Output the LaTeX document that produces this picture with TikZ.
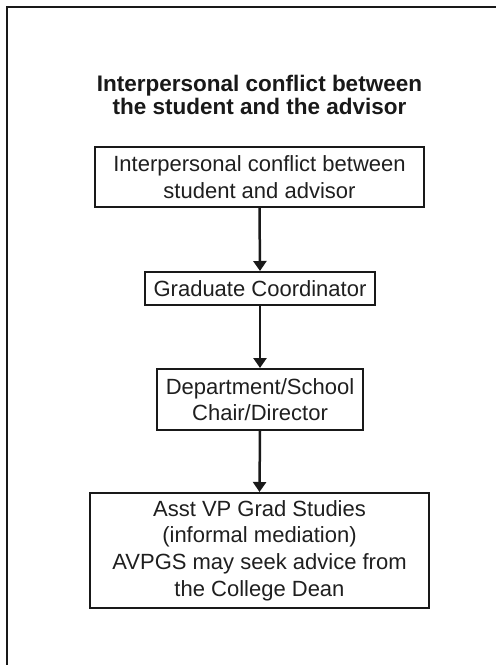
\documentclass[tikz,border=0pt]{standalone}
\usepackage{fontspec}
\setmainfont{Liberation Sans}
\usetikzlibrary{arrows.meta}
\begin{document}
\begin{tikzpicture}[x=1pt,y=-1pt,
  box/.style={draw=black!90,line width=2pt,align=center,inner sep=0pt,text=black!88,
    font=\fontsize{22}{26.7}\selectfont},
  ttl/.style={anchor=base,inner sep=0pt,text=black!90,font=\fontsize{22.5}{24}\selectfont\bfseries},
  arr/.style={line width=2.5pt,draw=black!90,-{Triangle[length=10pt,width=13pt]}}]
\useasboundingbox (0,0) rectangle (496,665);
\fill[white] (0,0) rectangle (496,665);
\draw[line width=2.7pt,black!90] (7,680) -- (7,7) -- (510,7);
\node[ttl] (t1) at (259.5,91) {Interpersonal conflict between};
\node[ttl] (t2) at (259.5,114) {the student and the advisor};
\node[box,minimum width=329pt,minimum height=60pt] (b1) at (259.5,177)
  {Interpersonal conflict between\\student and advisor};
\node[box,minimum width=230pt,minimum height=33pt] (b2) at (260,288.5)
  {Graduate Coordinator};
\node[box,minimum width=206pt,minimum height=61pt] (b3) at (260,399.5)
  {Department/School\\Chair/Director};
\node[box,minimum width=339pt,minimum height=115pt] (b4) at (259.5,550.5)
  {Asst VP Grad Studies\\(informal mediation)\\AVPGS may seek advice from\\the College Dean};
\draw[arr] (b1.south) -- (b2.north);
\draw[arr] (b2.south) -- (b3.north);
\draw[arr] (b3.south) -- (b4.north);
\end{tikzpicture}
\end{document}
